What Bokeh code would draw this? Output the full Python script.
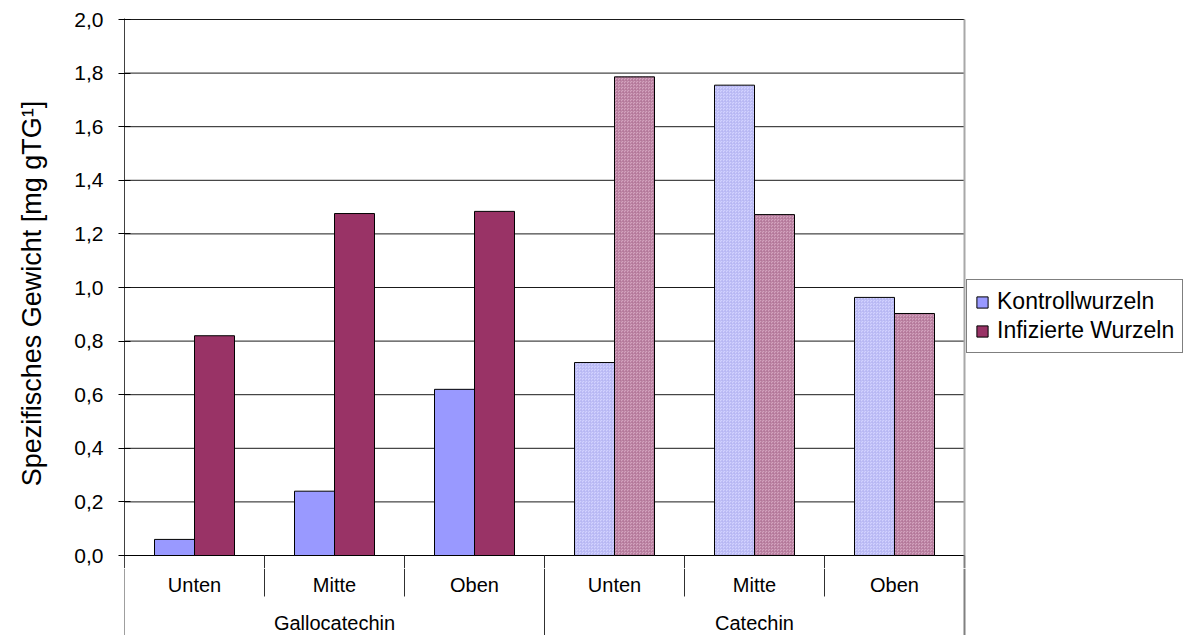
import numpy as np
from bokeh.plotting import figure
from bokeh.layouts import column
from bokeh.models import (Range1d, FixedTicker, CustomJSTickFormatter, Legend, LegendItem)
from bokeh.core.properties import value
from bokeh.embed import file_html
from bokeh.resources import INLINE

# ---- data ----
groups = ["Gallocatechin", "Catechin"]
positions = ["Unten", "Mitte", "Oben"]
series_names = ["Kontrollwurzeln", "Infizierte Wurzeln"]
kontroll = [0.06, 0.24, 0.62, 0.72, 1.755, 0.963]
infiziert = [0.82, 1.276, 1.284, 1.786, 1.272, 0.903]
y_ticks = [0.0, 0.2, 0.4, 0.6, 0.8, 1.0, 1.2, 1.4, 1.6, 1.8, 2.0]
y_label = "Spezifisches Gewicht [mg gTG\u00b9]"

FONT = "Liberation Sans"
W, H = 1186, 635
LEFT = 124
PX_PER_CAT = 140.0
PX_PER_UNIT = 268.0
TOP = 18
ZERO_PX = 555          # pixel row of value 0
MAIN_H = 568
TABLE_H = H - MAIN_H

n_pos = len(positions)
n_cat = len(groups) * n_pos
sub_labels = [s for g in groups for s in positions]
xc = np.arange(n_cat) + 0.5                     # category centres
group_centres = np.arange(len(groups)) * n_pos + n_pos / 2.0

x_range = Range1d(0, (W - LEFT) / PX_PER_CAT)
y_lo = -(MAIN_H - ZERO_PX) / PX_PER_UNIT
y_hi = (ZERO_PX - TOP) / PX_PER_UNIT

# ================= main chart =================
p = figure(x_range=x_range, y_range=Range1d(y_lo, y_hi),
           width=W, height=MAIN_H, output_backend="svg", toolbar_location=None,
           x_axis_location=None,
           min_border_left=LEFT, min_border_right=0, min_border_top=TOP, min_border_bottom=0)
p.outline_line_color = None
p.xgrid.visible = False
p.ygrid.visible = False

ax = p.yaxis[0]
ax.ticker = FixedTicker(ticks=y_ticks)
ax.formatter = CustomJSTickFormatter(code="return tick.toFixed(1).replace('.', ',');")
ax.minor_tick_line_color = None
ax.major_tick_in = 6
ax.major_tick_out = 6
ax.major_tick_line_color = "black"
ax.axis_line_color = "#404040"
ax.major_label_standoff = 15
ax.major_label_text_font = FONT
ax.major_label_text_font_size = "21px"
ax.major_label_text_color = "black"
ax.axis_label = y_label
ax.axis_label_text_font = FONT
ax.axis_label_text_font_size = "27px"
ax.axis_label_text_font_style = "normal"
ax.axis_label_text_color = "black"
ax.axis_label_standoff = 24

# grid lines (only over the plot area)
p.segment(x0=0, x1=n_cat, y0=y_ticks, y1=y_ticks, line_color="#1a1a1a", line_width=1)
p.segment(x0=0, x1=n_cat, y0=0, y1=0, line_color="black", line_width=1)
# right border of plot area
p.segment(x0=n_cat, x1=n_cat, y0=0, y1=2.0, line_color="#A8A8A8", line_width=2)
p.segment(x0=n_cat, x1=n_cat, y0=0, y1=y_lo, line_color="#808080", line_width=2)

# category dividers (start of table, below the zero line)
inner = [k for k in range(1, n_cat) if k % n_pos != 0]
outer = [k for k in range(1, n_cat) if k % n_pos == 0]
p.segment(x0=inner + outer, x1=inner + outer, y0=0, y1=y_lo, line_color="#303030", line_width=1)

bar_w = 40 / PX_PER_CAT
off = 20 / PX_PER_CAT
g = slice(0, n_pos)
c = slice(n_pos, n_cat)
kon = np.array(kontroll)
inf = np.array(infiziert)

rk = p.vbar(x=xc[g] - off, top=kon[g], bottom=0, width=bar_w,
            fill_color="#9999FF", line_color="black", line_width=1)
ri = p.vbar(x=xc[g] + off, top=inf[g], bottom=0, width=bar_w,
            fill_color="#993366", line_color="black", line_width=1)
p.vbar(x=xc[c] - off, top=kon[c], bottom=0, width=bar_w,
       fill_color="#D2D2FF", line_color="black", line_width=1,
       hatch_pattern="criss_cross", hatch_color="#B4B4F2", hatch_scale=3, hatch_weight=0.6)
p.vbar(x=xc[c] + off, top=inf[c], bottom=0, width=bar_w,
       fill_color="#D3A3BE", line_color="black", line_width=1,
       hatch_pattern="criss_cross", hatch_color="#B07396", hatch_scale=3, hatch_weight=0.6)

legend = Legend(items=[LegendItem(label=series_names[0], renderers=[rk]),
                       LegendItem(label=series_names[1], renderers=[ri])],
                location=(842, 568 - 353), padding=8, spacing=2,
                glyph_width=14, glyph_height=14, label_standoff=8,
                label_text_font=FONT, label_text_font_size="23px",
                label_text_color="black",
                border_line_color="black", border_line_width=1,
                background_fill_color="white", background_fill_alpha=1)
p.add_layout(legend)

# ================= category table =================
t = figure(x_range=x_range, y_range=Range1d(-TABLE_H, 0),
           width=W, height=TABLE_H, output_backend="svg", toolbar_location=None,
           x_axis_location=None, y_axis_location=None,
           min_border_left=LEFT, min_border_right=0, min_border_top=0, min_border_bottom=0)
t.outline_line_color = None
t.xgrid.visible = False
t.ygrid.visible = False

# left axis continuation and right border
t.segment(x0=0, x1=0, y0=0, y1=-TABLE_H, line_color="#404040", line_width=1)
t.segment(x0=n_cat, x1=n_cat, y0=0, y1=-TABLE_H, line_color="#808080", line_width=2)
t.segment(x0=inner, x1=inner, y0=0, y1=-(596 - MAIN_H), line_color="#303030", line_width=1)
t.segment(x0=outer, x1=outer, y0=0, y1=-TABLE_H, line_color="#303030", line_width=1)

t.text(x=xc, y=-(584 - MAIN_H), text=sub_labels, text_align="center", text_baseline="middle",
       text_font=value(FONT), text_font_size="20px", text_color="black")
t.text(x=group_centres, y=-(622 - MAIN_H), text=groups, text_align="center",
       text_baseline="middle",
       text_font=value(FONT), text_font_size="20px", text_color="black")

layout = column(p, t, spacing=0)
open("out.html", "w").write(file_html(layout, INLINE))
